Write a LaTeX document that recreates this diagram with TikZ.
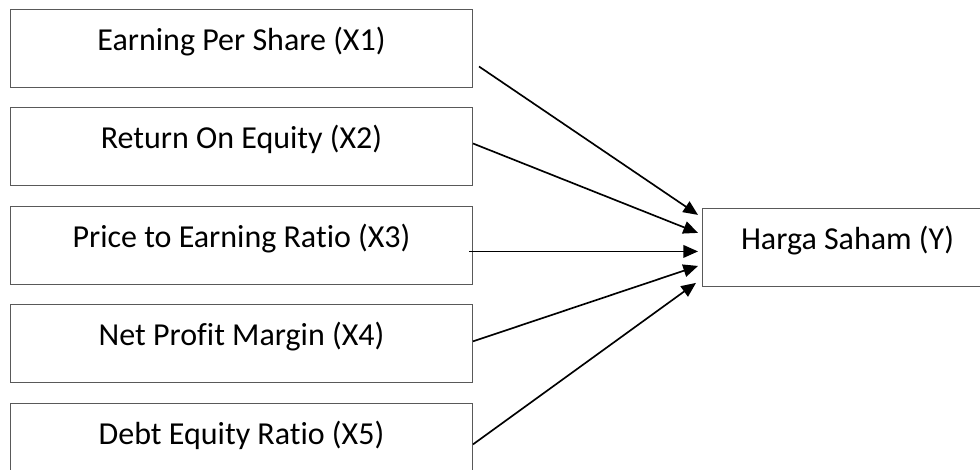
\documentclass[tikz,border=0pt]{standalone}
\usepackage{fontspec}
\setmainfont[Ligatures=NoCommon]{Carlito}
\usetikzlibrary
  {
    positioning,
    arrows.meta,
  }
\tikzset
  {
    ->,
    >={Triangle[length=11pt,width=9.5pt]},
    box/.style=
      {
        draw=black!65,
        line width=.75pt,
        fill=white,
        rectangle,
        inner sep=0pt,
        text height=30.75pt,
        text depth=27.75pt,
        align=center,
        font=\fontsize{24}{28}\selectfont,
      },
    factor/.style={box, minimum width=346.5pt},
    outcome/.style={box, minimum width=217.5pt},
  }
\begin{document}
\begin{tikzpicture}[line width=1.25pt]
  \useasboundingbox (0,0) rectangle (735pt,-352.5pt);

  \begin{scope}[node distance=14.6pt]
    \node[factor, anchor=north west] at (7.5pt,-6.75pt) (eps) {Earning Per Share (X1)};
    \node[factor, below=of eps] (roe) {Return On Equity (X2)};
    \node[factor, below=of roe] (per) {Price to Earning Ratio (X3)};
    \node[factor, below=of per] (npm) {Net Profit Margin (X4)};
    \node[factor, below=of npm] (der) {Debt Equity Ratio (X5)};
  \end{scope}

  \node[outcome, right=171.75pt of per, yshift=-1.5pt] (price) {Harga Saham (Y)};

  \draw ([shift={(4.5pt,-13.5pt)}]eps.east) -- ([shift={(-3pt,24.4pt)}]price.west);
  \draw ([yshift=2.6pt]roe.east) -- ([shift={(-3pt,10.9pt)}]price.west);
  \draw ([shift={(-3pt,-4.5pt)}]per.east) -- ([shift={(-3pt,-3pt)}]price.west);
  \draw ([yshift=1.9pt]npm.east) -- ([shift={(-3pt,-13.9pt)}]price.west);
  \draw ([yshift=-1.5pt]der.east) -- ([shift={(-4.5pt,-26.6pt)}]price.west);
\end{tikzpicture}
\end{document}
